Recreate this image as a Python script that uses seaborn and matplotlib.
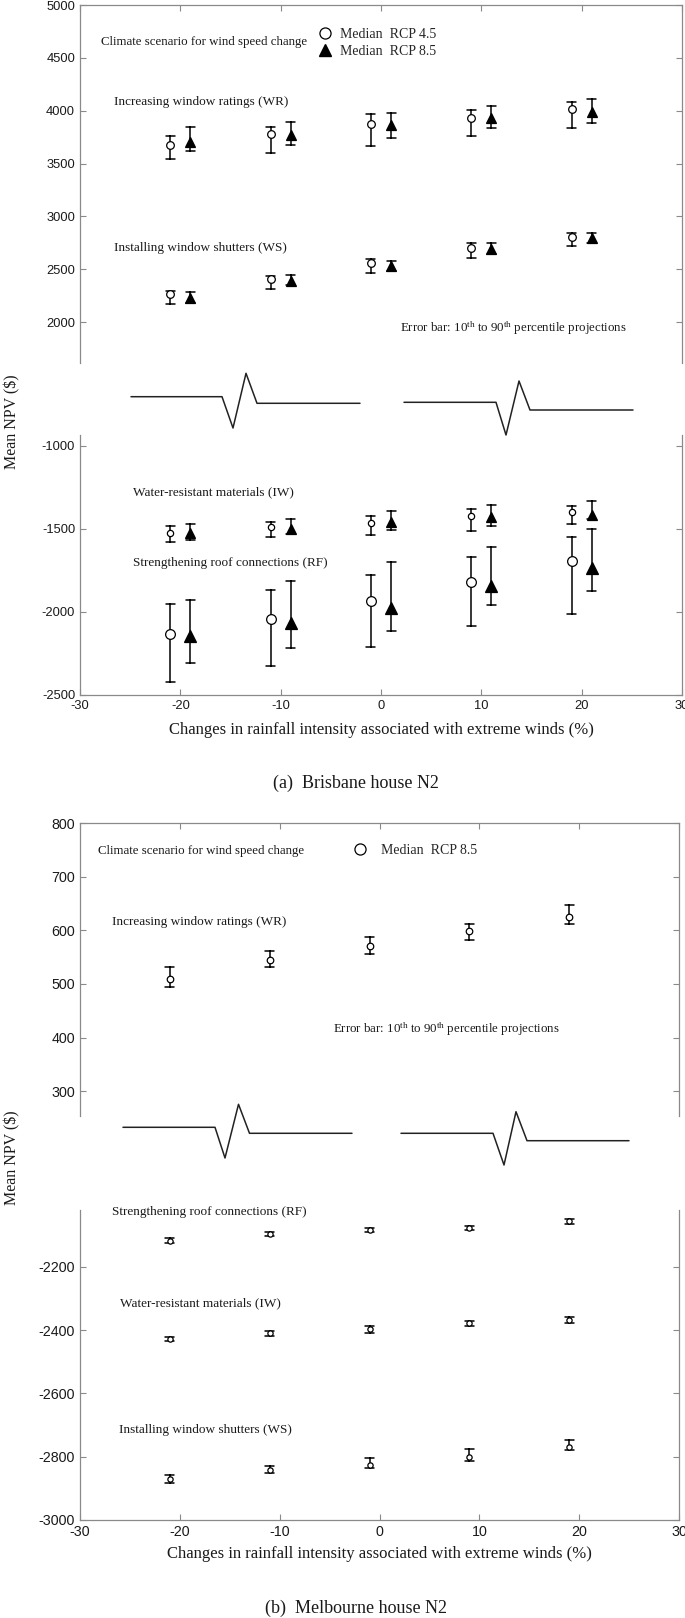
import numpy as np
import pandas as pd
import matplotlib
matplotlib.use('Agg')
import matplotlib.pyplot as plt
from matplotlib.lines import Line2D
from matplotlib.font_manager import FontProperties
import seaborn as sns

# ---------------- data ----------------
rain = [-20, -10, 0, 10, 20]   # change in rainfall intensity (%)

# (a) Brisbane house N2 -- median, 10th and 90th percentile
bri_wr_45_med = [3672, 3776, 3874, 3934, 4016]
bri_wr_45_p10 = [3542, 3596, 3662, 3764, 3836]
bri_wr_45_p90 = [3760, 3849, 3966, 4010, 4086]
bri_wr_85_med = [3703, 3772, 3864, 3931, 3985]
bri_wr_85_p10 = [3621, 3678, 3741, 3836, 3887]
bri_wr_85_p90 = [3843, 3890, 3978, 4042, 4111]

bri_ws_45_med = [2262, 2404, 2556, 2704, 2808]
bri_ws_45_p10 = [2173, 2313, 2461, 2609, 2720]
bri_ws_45_p90 = [2296, 2436, 2597, 2745, 2846]
bri_ws_85_med = [2224, 2388, 2530, 2694, 2793]
bri_ws_85_p10 = [2177, 2350, 2486, 2641, 2745]
bri_ws_85_p90 = [2284, 2442, 2580, 2745, 2840]

bri_iw_45_med = [-1526, -1490, -1466, -1422, -1398]
bri_iw_45_p10 = [-1576, -1548, -1538, -1512, -1470]
bri_iw_45_p90 = [-1482, -1458, -1422, -1381, -1361]
bri_iw_85_med = [-1526, -1502, -1460, -1430, -1418]
bri_iw_85_p10 = [-1566, -1530, -1504, -1482, -1442]
bri_iw_85_p90 = [-1468, -1440, -1394, -1354, -1331]

bri_rf_45_med = [-2134, -2044, -1934, -1821, -1695]
bri_rf_45_p10 = [-2420, -2323, -2211, -2086, -2014]
bri_rf_45_p90 = [-1952, -1869, -1777, -1667, -1546]
bri_rf_85_med = [-2145, -2064, -1978, -1843, -1737]
bri_rf_85_p10 = [-2305, -2217, -2113, -1960, -1874]
bri_rf_85_p90 = [-1928, -1813, -1697, -1607, -1502]

# (b) Melbourne house N2 (RCP 8.5)
mel_wr_med = [509, 545, 570, 598, 624]
mel_wr_p10 = [495, 531, 555, 582, 611]
mel_wr_p90 = [531, 562, 588, 612, 647]
mel_rf_med = [-2117, -2096, -2084, -2077, -2055]
mel_rf_p10 = [-2125, -2102, -2089, -2083, -2063]
mel_rf_p90 = [-2109, -2089, -2078, -2070, -2047]
mel_iw_med = [-2427, -2410, -2397, -2378, -2367]
mel_iw_p10 = [-2435, -2417, -2408, -2386, -2376]
mel_iw_p90 = [-2420, -2402, -2386, -2371, -2357]
mel_ws_med = [-2871, -2841, -2827, -2801, -2768]
mel_ws_p10 = [-2882, -2850, -2837, -2815, -2778]
mel_ws_p90 = [-2858, -2828, -2805, -2776, -2747]

xticks = [-30, -20, -10, 0, 10, 20, 30]
yticks_a_top = [2000, 2500, 3000, 3500, 4000, 4500, 5000]
yticks_a_bot = [-2500, -2000, -1500, -1000]
yticks_b_top = [300, 400, 500, 600, 700, 800]
yticks_b_bot = [-3000, -2800, -2600, -2400, -2200]

# ---------------- style ----------------
sns.set_theme(style='white')
plt.rcParams['font.family'] = ['Liberation Serif', 'DejaVu Serif']
plt.rcParams['axes.unicode_minus'] = False
plt.rcParams['mathtext.fontset'] = 'custom'
plt.rcParams['mathtext.rm'] = 'Liberation Serif'
plt.rcParams['mathtext.it'] = 'Liberation Serif:italic'
plt.rcParams['mathtext.bf'] = 'Liberation Serif:bold'

W, H = 685, 1618
fig = plt.figure(figsize=(W / 100, H / 100), dpi=100)
SPINE = '#8a8a8a'
TXT = '#1a1a1a'
CAP = 0.09


def px_axes(left, right, top, bottom):
    return fig.add_axes([left / W, 1 - bottom / H, (right - left) / W, (bottom - top) / H])


def draw_series(ax, med, lo, hi, offset, marker, ms, filled):
    xs = [r + offset for r in rain]
    df = pd.DataFrame({
        'x': np.repeat(xs, 3),
        'y': np.column_stack([lo, med, hi]).ravel(),
    })
    sns.pointplot(data=df, x='x', y='y', native_scale=True, estimator='median',
                  errorbar=lambda v: (v.min(), v.max()), capsize=CAP,
                  linestyle='none', marker=marker, markersize=ms,
                  markerfacecolor='black' if filled else 'white',
                  markeredgecolor='black', markeredgewidth=0.9,
                  color='black', err_kws={'linewidth': 1.1, 'zorder': 2},
                  zorder=3, ax=ax)


def style(ax, part, ylim, yticks, fs):
    ax.set_xlim(-30, 30)
    ax.set_ylim(*ylim)
    ax.set_xticks(xticks)
    ax.set_yticks(yticks)
    ax.set_xlabel('')
    ax.set_ylabel('')
    ax.grid(False)
    for s in ax.spines.values():
        s.set_color(SPINE)
        s.set_linewidth(0.9)
        s.set_visible(True)
    ax.tick_params(axis='both', direction='in', length=4.5, width=0.8, color=SPINE,
                   labelcolor=TXT, labelsize=fs, pad=3.5)
    ax.tick_params(axis='y', left=True, right=True, labelleft=True, labelright=False)
    if part == 'top':
        ax.spines['bottom'].set_visible(False)
        ax.tick_params(axis='x', top=True, bottom=False, labelbottom=False, labeltop=False)
    else:
        ax.spines['top'].set_visible(False)
        ax.tick_params(axis='x', top=False, bottom=True, labelbottom=True)
    for lab in ax.get_xticklabels() + ax.get_yticklabels():
        lab.set_fontfamily('Liberation Sans')


def note(ax, x, y, s, fs=9.3):
    ax.text(x, y, s, ha='left', va='center', fontsize=fs, color=TXT, family='Liberation Serif')


def zigzag(pts):
    xs = [p[0] / W for p in pts]
    ys = [1 - p[1] / H for p in pts]
    fig.add_artist(Line2D(xs, ys, transform=fig.transFigure, color='#222222', lw=1.1))


leg_font = FontProperties(family='Liberation Serif', size=10)
err_txt = 'Error bar: 10$^{\\rm th}$ to 90$^{\\rm th}$ percentile projections'

# ---------------- (a) Brisbane ----------------
axA1 = px_axes(80, 682, 5, 363)
axA2 = px_axes(80, 682, 435, 695)

draw_series(axA1, bri_wr_45_med, bri_wr_45_p10, bri_wr_45_p90, -1, 'o', 5.5, False)
draw_series(axA1, bri_wr_85_med, bri_wr_85_p10, bri_wr_85_p90, 1, '^', 7.5, True)
draw_series(axA1, bri_ws_45_med, bri_ws_45_p10, bri_ws_45_p90, -1, 'o', 5.5, False)
draw_series(axA1, bri_ws_85_med, bri_ws_85_p10, bri_ws_85_p90, 1, '^', 7.5, True)
draw_series(axA2, bri_iw_45_med, bri_iw_45_p10, bri_iw_45_p90, -1, 'o', 4.5, False)
draw_series(axA2, bri_iw_85_med, bri_iw_85_p10, bri_iw_85_p90, 1, '^', 6.5, True)
draw_series(axA2, bri_rf_45_med, bri_rf_45_p10, bri_rf_45_p90, -1, 'o', 7, False)
draw_series(axA2, bri_rf_85_med, bri_rf_85_p10, bri_rf_85_p90, 1, '^', 8, True)

style(axA1, 'top', (1612, 5000), yticks_a_top, 9.3)
style(axA2, 'bot', (-2500, -934), yticks_a_bot, 9.3)

note(axA1, -27.9, 4649, 'Climate scenario for wind speed change')
note(axA1, -26.6, 4080, 'Increasing window ratings (WR)', 9.5)
note(axA1, -26.6, 2702, 'Installing window shutters (WS)', 9.5)
note(axA1, 1.85, 1943, err_txt, 9.3)
note(axA2, -24.7, -1282, 'Water-resistant materials (IW)', 9.5)
note(axA2, -24.7, -1702, 'Strengthening roof connections (RF)', 9.5)

hA = [Line2D([], [], marker='o', ls='none', mfc='white', mec='black', ms=8, mew=0.9),
      Line2D([], [], marker='^', ls='none', mfc='black', mec='black', ms=8.5)]
axA1.legend(hA, ['Median  RCP 4.5', 'Median  RCP 8.5'], loc='center left',
            bbox_to_anchor=(0.396, 0.8937), frameon=False, handlelength=1.0,
            handletextpad=0.54, borderpad=0, borderaxespad=0, labelspacing=0.3,
            prop=leg_font)

axA2.set_xlabel('Changes in rainfall intensity associated with extreme winds (%)',
                fontsize=12, labelpad=7, color=TXT, family='Liberation Serif')

zigzag([(131, 396.7), (222, 396.7), (233, 428), (246, 373.3), (257, 403.3), (360, 403.3)])
zigzag([(404, 402.3), (496, 402.3), (506, 435), (519, 381), (530, 410), (633, 410)])

fig.text(12 / W, 1 - 422 / H, 'Mean NPV ($)', rotation=90, ha='center', va='center',
         fontsize=11.5, color=TXT)
fig.text(356 / W, 1 - 783 / H, '(a)  Brisbane house N2', ha='center', va='center',
         fontsize=13, color=TXT)

# ---------------- (b) Melbourne ----------------
axB1 = px_axes(80, 679, 823, 1116)
axB2 = px_axes(80, 679, 1210, 1520)

draw_series(axB1, mel_wr_med, mel_wr_p10, mel_wr_p90, -1, 'o', 4.7, False)
draw_series(axB2, mel_rf_med, mel_rf_p10, mel_rf_p90, -1, 'o', 3.8, False)
draw_series(axB2, mel_iw_med, mel_iw_p10, mel_iw_p90, -1, 'o', 3.8, False)
draw_series(axB2, mel_ws_med, mel_ws_p10, mel_ws_p90, -1, 'o', 3.8, False)

style(axB1, 'top', (254, 800), yticks_b_top, 10.3)
style(axB2, 'bot', (-3000, -2020), yticks_b_bot, 10.3)

note(axB1, -28.2, 748, 'Climate scenario for wind speed change')
note(axB1, -26.8, 616, 'Increasing window ratings (WR)', 9.5)
note(axB1, -4.7, 415, err_txt, 9.3)
note(axB2, -26.8, -2026, 'Strengthening roof connections (RF)', 9.5)
note(axB2, -26.0, -2314, 'Water-resistant materials (IW)', 9.5)
note(axB2, -26.1, -2715, 'Installing window shutters (WS)', 9.5)

hB = [Line2D([], [], marker='o', ls='none', mfc='white', mec='black', ms=8, mew=0.9)]
axB1.legend(hB, ['Median  RCP 8.5'], loc='center left', bbox_to_anchor=(0.456, 0.905),
            frameon=False, handlelength=1.0, handletextpad=0.99, borderpad=0,
            borderaxespad=0, prop=leg_font)

axB2.set_xlabel('Changes in rainfall intensity associated with extreme winds (%)',
                fontsize=12, labelpad=5, color=TXT, family='Liberation Serif')

zigzag([(123, 1127.3), (215, 1127.3), (225, 1158), (238.5, 1104.3), (249.5, 1133.3), (352, 1133.3)])
zigzag([(401, 1133.3), (493, 1133.3), (504, 1165), (516, 1111.7), (527, 1140.7), (629, 1140.7)])

fig.text(12 / W, 1 - 1158 / H, 'Mean NPV ($)', rotation=90, ha='center', va='center',
         fontsize=11.5, color=TXT)
fig.text(356 / W, 1 - 1608 / H, '(b)  Melbourne house N2', ha='center', va='center',
         fontsize=13, color=TXT)

fig.savefig('out.png', dpi=100, facecolor='white')
